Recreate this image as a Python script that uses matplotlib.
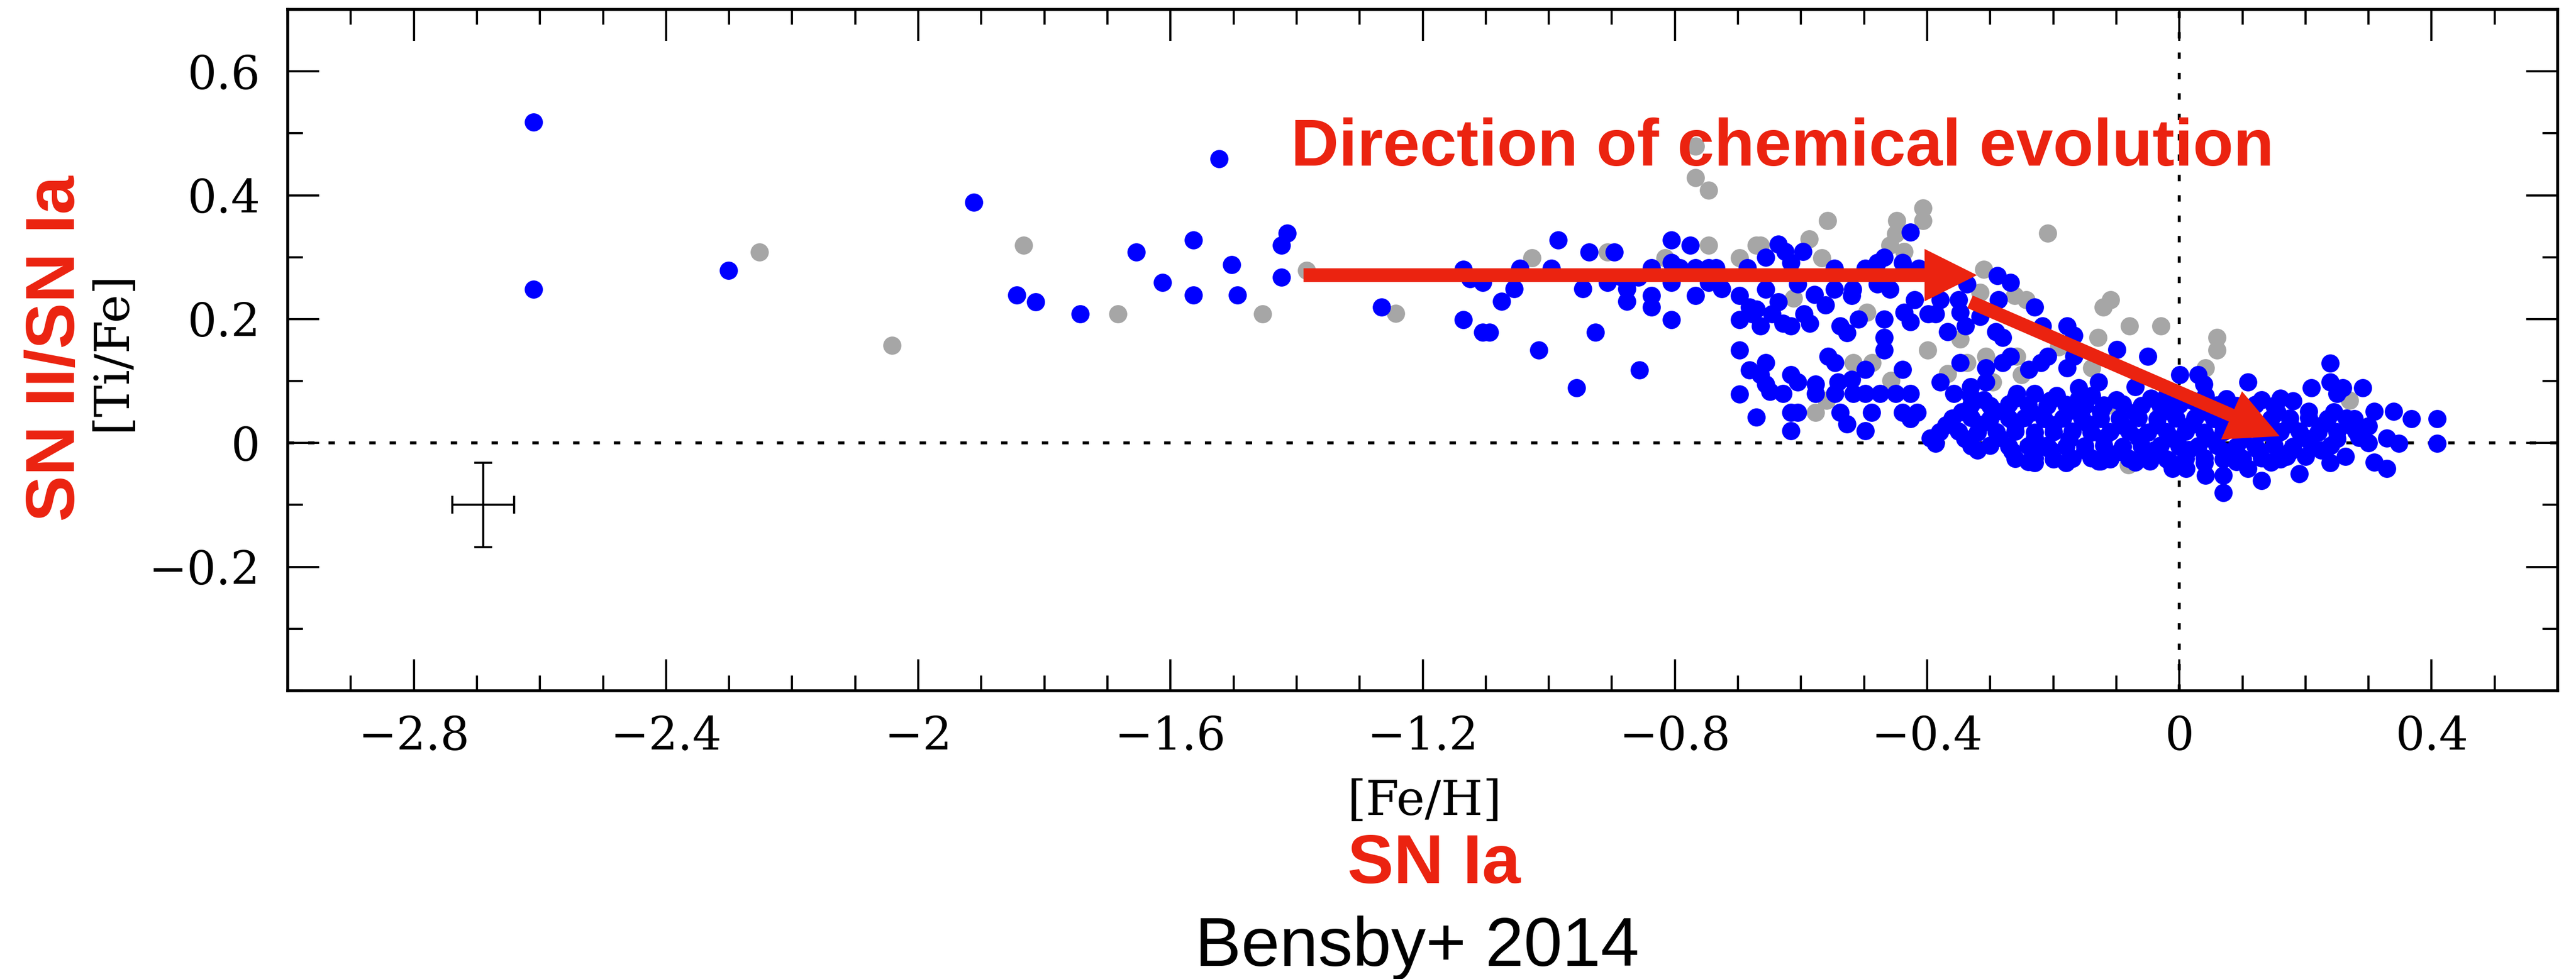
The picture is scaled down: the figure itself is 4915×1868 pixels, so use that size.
import matplotlib.pyplot as plt
from matplotlib.ticker import MultipleLocator, FixedLocator
import numpy as np

# [Fe/H], [Ti/Fe] pairs
halo_blue = [(-2.61, 0.518), (-2.61, 0.248), (-2.301, 0.279), (-1.912, 0.389),
             (-1.844, 0.239), (-1.814, 0.228), (-1.743, 0.208), (-1.654, 0.308),
             (-1.613, 0.259), (-1.564, 0.328), (-1.564, 0.239), (-1.523, 0.459),
             (-1.503, 0.288), (-1.494, 0.239), (-1.415, 0.339), (-1.424, 0.319),
             (-1.424, 0.268), (-1.265, 0.219)]

thick_blue = [(-0.985, 0.328), (-0.936, 0.308), (-0.896, 0.308), (-0.806, 0.328),
              (-0.776, 0.319), (-1.136, 0.280), (-1.125, 0.265), (-1.105, 0.259),
              (-1.046, 0.282), (-0.996, 0.282), (-1.055, 0.249), (-1.075, 0.229),
              (-0.946, 0.249), (-0.907, 0.259), (-0.885, 0.268), (-0.876, 0.249),
              (-0.876, 0.229), (-0.858, 0.268), (-0.837, 0.283), (-0.837, 0.238),
              (-0.837, 0.219), (-0.806, 0.291), (-0.806, 0.259), (-0.792, 0.283),
              (-0.767, 0.283), (-0.767, 0.238), (-0.747, 0.283), (-0.747, 0.259),
              (-0.735, 0.283), (-0.726, 0.249), (-0.698, 0.238), (-0.685, 0.283),
              (-0.682, 0.219), (-1.136, 0.199), (-1.105, 0.179), (-1.094, 0.179),
              (-1.016, 0.150), (-0.926, 0.179), (-0.806, 0.199), (-0.856, 0.118),
              (-0.956, 0.089), (-0.698, 0.199), (-0.698, 0.150), (-0.682, 0.118),
              (-0.698, 0.079), (-0.678, 0.208)]

mid_blue = [(-0.636, 0.321), (-0.656, 0.300), (-0.625, 0.309), (-0.597, 0.309),
            (-0.616, 0.291), (-0.427, 0.340), (-0.468, 0.300), (-0.479, 0.291),
            (-0.498, 0.282), (-0.547, 0.282), (-0.439, 0.291), (-0.413, 0.282),
            (-0.289, 0.270), (-0.268, 0.259), (-0.337, 0.257),
            (-0.656, 0.248), (-0.605, 0.257), (-0.547, 0.248), (-0.518, 0.248),
            (-0.479, 0.257), (-0.459, 0.248), (-0.636, 0.228), (-0.579, 0.240),
            (-0.561, 0.223), (-0.520, 0.238), (-0.420, 0.231), (-0.379, 0.231),
            (-0.350, 0.231), (-0.287, 0.231), (-0.230, 0.219),
            (-0.671, 0.216), (-0.664, 0.189), (-0.646, 0.208), (-0.629, 0.193),
            (-0.616, 0.189), (-0.595, 0.208), (-0.586, 0.193), (-0.538, 0.189),
            (-0.527, 0.178), (-0.509, 0.200), (-0.468, 0.200), (-0.468, 0.170),
            (-0.468, 0.150), (-0.437, 0.211), (-0.427, 0.196), (-0.398, 0.208),
            (-0.387, 0.208), (-0.368, 0.180), (-0.348, 0.211), (-0.339, 0.189),
            (-0.316, 0.204), (-0.291, 0.180), (-0.280, 0.170), (-0.217, 0.189),
            (-0.178, 0.189), (-0.167, 0.174), (-0.099, 0.151),
            (-0.656, 0.130), (-0.557, 0.140), (-0.546, 0.130), (-0.498, 0.119),
            (-0.439, 0.119), (-0.348, 0.130), (-0.268, 0.140), (-0.280, 0.130),
            (-0.209, 0.140), (-0.220, 0.130), (-0.167, 0.140), (-0.178, 0.121),
            (-0.239, 0.119), (-0.307, 0.121),
            (-0.664, 0.110), (-0.616, 0.110), (-0.605, 0.098), (-0.656, 0.095),
            (-0.649, 0.083), (-0.629, 0.080), (-0.577, 0.095), (-0.577, 0.080),
            (-0.541, 0.098), (-0.546, 0.080), (-0.520, 0.103), (-0.517, 0.080),
            (-0.498, 0.080), (-0.475, 0.080), (-0.450, 0.080), (-0.427, 0.080),
            (-0.379, 0.098), (-0.358, 0.080), (-0.331, 0.091), (-0.307, 0.098),
            (-0.331, 0.076), (-0.258, 0.080), (-0.230, 0.080), (-0.195, 0.076),
            (-0.160, 0.089), (-0.139, 0.076), (-0.128, 0.098),
            (-0.671, 0.042), (-0.616, 0.049), (-0.605, 0.049), (-0.538, 0.049),
            (-0.527, 0.031), (-0.488, 0.049), (-0.439, 0.049), (-0.427, 0.039),
            (-0.416, 0.049), (-0.616, 0.020), (-0.498, 0.020), (-0.387, -0.001),
            (-0.050, 0.140), (0.001, 0.110), (0.030, 0.110), (0.039, 0.095),
            (0.109, 0.098), (0.239, 0.129), (0.239, 0.098), (0.209, 0.089),
            (0.259, 0.089), (0.250, 0.080), (0.291, 0.089), (-0.070, 0.091),
            (-0.020, 0.076), (0.041, 0.076), (0.160, 0.072), (0.309, 0.051),
            (0.340, 0.051), (0.368, 0.039), (0.409, 0.039), (0.409, -0.001),
            (0.348, -0.001), (0.329, 0.008), (0.300, 0.000), (0.277, 0.039),
            (0.309, -0.031), (0.329, -0.041), (0.263, -0.022), (0.239, -0.032),
            (0.200, -0.022), (0.190, -0.050), (0.170, -0.022), (0.130, -0.061),
            (0.070, -0.080), (0.070, -0.052), (0.041, -0.052), (0.109, -0.041),
            (0.011, -0.041), (-0.011, -0.041), (-0.047, -0.029),
            (-0.230, -0.032), (-0.128, -0.029), (-0.228, -0.011)]

# the solid thin-disc clump around solar [Fe/H]
blob_blue = [(-0.33, 0.062), (-0.30, 0.060), (-0.27, 0.063), (-0.24, 0.061), (-0.21, 0.060),
             (-0.18, 0.062), (-0.15, 0.060), (-0.12, 0.061), (-0.09, 0.063), (-0.06, 0.060),
             (-0.03, 0.061), (0.00, 0.062), (0.03, 0.060), (0.06, 0.061), (0.09, 0.060),
             (0.12, 0.062), (0.15, 0.060),
             (-0.36, 0.040), (-0.33, 0.041), (-0.30, 0.039), (-0.27, 0.040), (-0.245, 0.041),
             (-0.215, 0.039), (-0.185, 0.040), (-0.155, 0.041), (-0.125, 0.039), (-0.095, 0.040),
             (-0.065, 0.041), (-0.035, 0.039), (-0.005, 0.040), (0.025, 0.041), (0.055, 0.039),
             (0.085, 0.040), (0.115, 0.041), (0.145, 0.039), (0.175, 0.040), (0.205, 0.041),
             (0.235, 0.039), (0.265, 0.040),
             (-0.38, 0.018), (-0.35, 0.019), (-0.32, 0.017), (-0.29, 0.018), (-0.26, 0.019),
             (-0.23, 0.017), (-0.20, 0.018), (-0.17, 0.019), (-0.14, 0.017), (-0.11, 0.018),
             (-0.08, 0.019), (-0.05, 0.017), (-0.02, 0.018), (0.01, 0.019), (0.04, 0.017),
             (0.07, 0.018), (0.10, 0.019), (0.13, 0.017), (0.16, 0.018), (0.19, 0.019),
             (0.22, 0.017), (0.25, 0.018), (0.28, 0.019),
             (-0.33, -0.005), (-0.30, -0.004), (-0.27, -0.006), (-0.24, -0.005), (-0.21, -0.004),
             (-0.18, -0.006), (-0.15, -0.005), (-0.12, -0.004), (-0.09, -0.006), (-0.06, -0.005),
             (-0.03, -0.004), (0.00, -0.006), (0.03, -0.005), (0.06, -0.004), (0.09, -0.006),
             (0.12, -0.005), (0.15, -0.004), (0.18, -0.006), (0.21, -0.005), (0.24, -0.004),
             (-0.26, -0.025), (-0.23, -0.024), (-0.20, -0.026), (-0.17, -0.025), (-0.14, -0.024),
             (-0.11, -0.026), (-0.08, -0.025), (-0.05, -0.024), (-0.02, -0.026), (0.01, -0.025),
             (0.04, -0.024), (0.07, -0.026), (0.10, -0.025), (0.13, -0.024), (0.16, -0.026)]

blob_fill = [(-0.31, 0.070), (-0.26, 0.072), (-0.205, 0.069), (-0.16, 0.071), (-0.10, 0.070),
             (-0.045, 0.072), (0.02, 0.069), (0.075, 0.071), (0.13, 0.070), (0.18, 0.068),
             (-0.345, 0.050), (-0.29, 0.051), (-0.235, 0.049), (-0.175, 0.052), (-0.125, 0.050),
             (-0.07, 0.049), (-0.015, 0.051), (0.045, 0.050), (0.10, 0.052), (0.155, 0.049),
             (0.205, 0.051), (0.245, 0.050),
             (-0.37, 0.029), (-0.315, 0.030), (-0.26, 0.028), (-0.20, 0.029), (-0.145, 0.031),
             (-0.09, 0.028), (-0.035, 0.029), (0.02, 0.030), (0.07, 0.028), (0.125, 0.029),
             (0.175, 0.031), (0.225, 0.028), (0.27, 0.029), (0.30, 0.027),
             (-0.395, 0.008), (-0.34, 0.007), (-0.285, 0.009), (-0.23, 0.008), (-0.175, 0.006),
             (-0.12, 0.008), (-0.065, 0.009), (-0.01, 0.007), (0.045, 0.008), (0.10, 0.006),
             (0.15, 0.009), (0.20, 0.008), (0.25, 0.007), (0.285, 0.009),
             (-0.32, -0.012), (-0.265, -0.013), (-0.205, -0.011), (-0.15, -0.012), (-0.095, -0.014),
             (-0.04, -0.012), (0.015, -0.011), (0.07, -0.013), (0.125, -0.012), (0.175, -0.014),
             (0.225, -0.012),
             (-0.24, -0.030), (-0.18, -0.032), (-0.125, -0.029), (-0.07, -0.031), (-0.015, -0.030),
             (0.04, -0.032), (0.09, -0.030), (0.145, -0.031)]

grey_stars = [(-2.252, 0.308), (-2.042, 0.158), (-1.833, 0.319), (-1.683, 0.208),
              (-1.454, 0.208), (-1.384, 0.279), (-1.243, 0.209),
              (-0.767, 0.479), (-0.767, 0.428), (-0.747, 0.408), (-1.027, 0.299),
              (-0.907, 0.308), (-0.816, 0.299), (-0.747, 0.319), (-0.698, 0.299),
              (-0.671, 0.319),
              (-0.558, 0.359), (-0.407, 0.379), (-0.407, 0.359), (-0.448, 0.359),
              (-0.450, 0.338), (-0.587, 0.329), (-0.664, 0.319), (-0.567, 0.299),
              (-0.459, 0.319), (-0.437, 0.309), (-0.209, 0.339), (-0.310, 0.280),
              (-0.612, 0.234), (-0.496, 0.211), (-0.316, 0.243), (-0.261, 0.238),
              (-0.243, 0.231), (-0.109, 0.231), (-0.121, 0.219), (-0.129, 0.170),
              (-0.348, 0.168), (-0.399, 0.150), (-0.517, 0.130), (-0.487, 0.130),
              (-0.337, 0.130), (-0.307, 0.140), (-0.258, 0.140), (-0.368, 0.112),
              (-0.296, 0.098), (-0.457, 0.101), (-0.250, 0.110), (-0.191, 0.155),
              (-0.139, 0.121), (-0.109, 0.061), (-0.577, 0.049), (-0.560, 0.069),
              (-0.079, 0.189), (-0.029, 0.189), (0.060, 0.170), (0.060, 0.150),
              (0.041, 0.121), (0.270, 0.069), (-0.029, 0.055), (-0.081, -0.035)]

# typical error bar
err_x, err_y = -2.69, -0.10
err_feh, err_tife = 0.049, 0.068

xtick_vals = [-2.8, -2.4, -2.0, -1.6, -1.2, -0.8, -0.4, 0.0, 0.4]
xtick_labels = ['\u22122.8', '\u22122.4', '\u22122', '\u22121.6', '\u22121.2',
                '\u22120.8', '\u22120.4', '0', '0.4']
ytick_vals = [-0.2, 0.0, 0.2, 0.4, 0.6]
ytick_labels = ['\u22120.2', '0', '0.2', '0.4', '0.6']

red = '#eb2310'

blue = np.array(halo_blue + thick_blue + mid_blue + blob_blue + blob_fill)
grey = np.array(grey_stars)

fig = plt.figure(figsize=(49.15, 18.68), dpi=100)
ax = fig.add_axes([0.1117, 0.2944, 0.8812, 0.696])

ax.axhline(0, color='k', lw=4, ls=(0, (2.2, 4.8)), zorder=1)
ax.axvline(0, color='k', lw=4, ls=(0, (2.2, 4.8)), zorder=1)

ax.plot(grey[:, 0], grey[:, 1], 'o', color='#a6a6a6', ms=25, mew=0, zorder=2)
ax.plot(blue[:, 0], blue[:, 1], 'o', color='#0000ff', ms=25, mew=0, zorder=3)

ax.errorbar(err_x, err_y, xerr=err_feh, yerr=err_tife, fmt='none', ecolor='k',
            elinewidth=3, capsize=12, capthick=3)

ax.set_xlim(-3.0, 0.6)
ax.set_ylim(-0.4, 0.7)
ax.xaxis.set_major_locator(FixedLocator(xtick_vals))
ax.xaxis.set_minor_locator(MultipleLocator(0.1))
ax.yaxis.set_major_locator(FixedLocator(ytick_vals))
ax.yaxis.set_minor_locator(MultipleLocator(0.1))
ax.set_xticklabels(xtick_labels, fontfamily='DejaVu Serif', fontsize=63)
ax.set_yticklabels(ytick_labels, fontfamily='DejaVu Serif', fontsize=63)
ax.tick_params(which='both', direction='in', top=True, right=True, width=3)
ax.tick_params(which='major', length=43)
ax.tick_params(which='minor', length=21)
ax.tick_params(axis='x', pad=33)
ax.tick_params(axis='y', pad=38)
for s in ax.spines.values():
    s.set_linewidth(4)

# arrows
arrow = 'simple,head_length=1.0,head_width=1.0,tail_width=0.26'
ax.annotate('', xy=(-0.321, 0.271), xytext=(-1.389, 0.271),
            arrowprops=dict(arrowstyle=arrow, mutation_scale=72, color=red, lw=0,
                            shrinkA=0, shrinkB=0), zorder=5)
ax.annotate('', xy=(0.159, 0.011), xytext=(-0.332, 0.228),
            arrowprops=dict(arrowstyle=arrow, mutation_scale=72, color=red, lw=0,
                            shrinkA=0, shrinkB=0), zorder=5)

fig.text(0.692, 0.8308, 'Direction of chemical evolution', color=red,
         family='Liberation Sans', weight='bold', fontsize=91, ha='center', va='baseline')

fig.text(0.553, 0.1675, '[Fe/H]', family='DejaVu Serif', fontsize=66,
         ha='center', va='baseline')
fig.text(0.5567, 0.098, 'SN Ia', color=red, family='Liberation Sans', weight='bold',
         fontsize=95, ha='center', va='baseline')
fig.text(0.550, 0.0134, 'Bensby+ 2014', family='Liberation Sans', fontsize=95,
         ha='center', va='baseline')

fig.text(0.0486, 0.6413, '[Ti/Fe]', family='DejaVu Serif', fontsize=66,
         rotation=90, rotation_mode='anchor', ha='center', va='baseline')
fig.text(0.0289, 0.644, 'SN II/SN Ia', color=red, family='Liberation Sans', weight='bold',
         fontsize=95, rotation=90, rotation_mode='anchor', ha='center', va='baseline')

fig.savefig('out.png', dpi=100)
